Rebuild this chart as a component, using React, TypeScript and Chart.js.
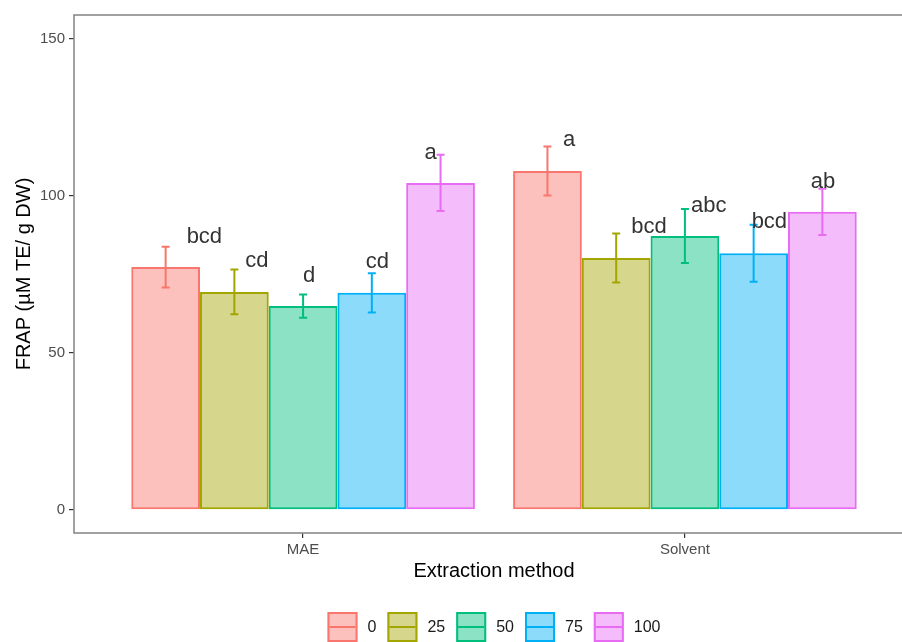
import React, { useEffect, useRef } from 'react';
import { Chart, registerables } from 'chart.js';

Chart.register(...registerables);

// ---- data ----
const categories = ['MAE', 'Solvent'];
const seriesNames = ['0', '25', '50', '75', '100'];

const mean0 = [77.3, 107.9];
const mean25 = [69.4, 80.2];
const mean50 = [64.9, 87.2];
const mean75 = [69.1, 81.7];
const mean100 = [104.1, 94.9];

const sd0 = [6.5, 7.8];
const sd25 = [7.15, 7.8];
const sd50 = [3.7, 8.6];
const sd75 = [6.25, 9.1];
const sd100 = [8.95, 7.35];

const letters0 = ['bcd', 'a'];
const letters25 = ['cd', 'bcd'];
const letters50 = ['d', 'abc'];
const letters75 = ['cd', 'bcd'];
const letters100 = ['a', 'ab'];

// letter baselines, in FRAP units
const letterY0 = [85.1, 115.9];
const letterY25 = [77.3, 88.2];
const letterY50 = [72.7, 95.0];
const letterY75 = [77.1, 89.7];
const letterY100 = [111.7, 102.6];

const yTicks = [0, 50, 100, 150];
const xTicks = [1, 2];

// ---- style ----
const FONT = "'Liberation Sans', Arial, Helvetica, sans-serif";
const colors = ['#F8766D', '#A3A500', '#00BF7D', '#00B0F6', '#E76BF3'];
const FILL_ALPHA = 0.45;
// horizontal pixel offset of each letter's left edge from its bar centre
const letterDx = [
  [22, 16.5],
  [12, 16],
  [1, 7],
  [-5, -1],
  [-15, -10.5],
];

const means = [mean0, mean25, mean50, mean75, mean100];
const sds = [sd0, sd25, sd50, sd75, sd100];
const letters = [letters0, letters25, letters50, letters75, letters100];
const letterYs = [letterY0, letterY25, letterY50, letterY75, letterY100];

function rgba(hex: string, a: number) {
  const n = parseInt(hex.slice(1), 16);
  return `rgba(${(n >> 16) & 255},${(n >> 8) & 255},${n & 255},${a})`;
}

const extrasPlugin = {
  id: 'extras',
  afterDatasetsDraw(chart: any) {
    const ctx = chart.ctx;
    const y = chart.scales.y;
    ctx.save();
    chart.data.datasets.forEach((ds: any, d: number) => {
      const meta = chart.getDatasetMeta(d);
      meta.data.forEach((bar: any, i: number) => {
        const m = means[d][i];
        const s = sds[d][i];
        const yt = y.getPixelForValue(m + s);
        const yb = y.getPixelForValue(m - s);
        const x = bar.x;
        ctx.strokeStyle = colors[d];
        ctx.lineWidth = 2;
        ctx.beginPath();
        ctx.moveTo(x, yt);
        ctx.lineTo(x, yb);
        ctx.moveTo(x - 4, yt);
        ctx.lineTo(x + 4, yt);
        ctx.moveTo(x - 4, yb);
        ctx.lineTo(x + 4, yb);
        ctx.stroke();
      });
    });
    // letters
    ctx.font = `22px ${FONT}`;
    ctx.fillStyle = '#333333';
    ctx.textAlign = 'left';
    ctx.textBaseline = 'alphabetic';
    chart.data.datasets.forEach((ds: any, d: number) => {
      const meta = chart.getDatasetMeta(d);
      meta.data.forEach((bar: any, i: number) => {
        ctx.fillText(letters[d][i], bar.x + letterDx[d][i] - 1, y.getPixelForValue(letterYs[d][i]));
      });
    });
    ctx.restore();
  },
  afterDraw(chart: any) {
    const ctx = chart.ctx;
    const a = chart.chartArea;
    ctx.save();
    // panel border
    ctx.strokeStyle = '#8a8a8a';
    ctx.lineWidth = 1.6;
    ctx.strokeRect(a.left, a.top, a.right - a.left, a.bottom - a.top);

    // legend
    const key = 30;
    const gapText = 10;
    const gapItem = 11;
    ctx.font = `16px ${FONT}`;
    const widths = seriesNames.map((s) => ctx.measureText(s).width);
    let total = 0;
    widths.forEach((w, i) => {
      total += key + gapText + w + (i < widths.length - 1 ? gapItem : 0);
    });
    let x = (a.left + a.right) / 2 - total / 2;
    const cy = chart.height - 15;
    seriesNames.forEach((s, i) => {
      const top = cy - key / 2;
      ctx.fillStyle = rgba(colors[i], FILL_ALPHA);
      ctx.fillRect(x, top, key, key);
      ctx.strokeStyle = colors[i];
      ctx.lineWidth = 2;
      ctx.strokeRect(x + 1, top + 1, key - 2, key - 2);
      ctx.beginPath();
      ctx.moveTo(x + 2, cy);
      ctx.lineTo(x + key - 2, cy);
      ctx.stroke();
      ctx.fillStyle = '#1a1a1a';
      ctx.textAlign = 'left';
      ctx.textBaseline = 'middle';
      ctx.fillText(s, x + key + gapText, cy + 1);
      x += key + gapText + widths[i] + gapItem;
    });
    ctx.restore();
  },
};

export default function App() {
  const ref = useRef<HTMLCanvasElement | null>(null);

  useEffect(() => {
    if (!ref.current) return;
    const datasets = seriesNames.map((name, d) => ({
      label: name,
      data: categories.map((c, i) => ({ x: xTicks[i], y: means[d][i] })),
      backgroundColor: rgba(colors[d], FILL_ALPHA),
      borderColor: colors[d],
      borderWidth: 2,
      borderSkipped: false,
    }));
    const chart = new Chart(ref.current, {
      type: 'bar',
      data: { datasets },
      plugins: [extrasPlugin],
      options: {
        responsive: false,
        animation: false,
        devicePixelRatio: 1,
        categoryPercentage: 0.9,
        barPercentage: 1.0,
        layout: { padding: { top: 15, right: 16, bottom: 59, left: 0 } },
        plugins: { legend: { display: false }, tooltip: { enabled: false } },
        scales: {
          x: {
            type: 'linear',
            min: 0.4,
            max: 2.6,
            offset: false,
            afterBuildTicks: (s: any) => {
              s.ticks = xTicks.map((v) => ({ value: v }));
            },
            afterFit: (s: any) => {
              s.height = 50;
            },
            ticks: {
              callback: (v: any) => categories[Math.round(Number(v)) - 1] ?? '',
              font: { size: 15, family: FONT },
              color: '#4d4d4d',
              padding: 3,
              autoSkip: false,
              maxRotation: 0,
            },
            grid: {
              display: true,
              drawOnChartArea: false,
              drawTicks: true,
              tickLength: 5,
              color: '#333333',
              lineWidth: 1.2,
              offset: false,
            },
            border: { display: false },
            title: {
              display: true,
              text: 'Extraction method',
              font: { size: 20, family: FONT },
              color: '#000000',
              padding: { top: 0, bottom: 0 },
            },
          },
          y: {
            type: 'linear',
            min: -7.4,
            max: 157.6,
            afterBuildTicks: (s: any) => {
              s.ticks = yTicks.map((v) => ({ value: v }));
            },
            afterFit: (s: any) => {
              s.width = 74;
            },
            ticks: {
              font: { size: 15, family: FONT },
              color: '#4d4d4d',
              padding: 4,
            },
            grid: {
              display: true,
              drawOnChartArea: false,
              drawTicks: true,
              tickLength: 5,
              color: '#333333',
              lineWidth: 1.2,
            },
            border: { display: false },
            title: {
              display: true,
              text: 'FRAP (µM TE/ g DW)',
              font: { size: 20, family: FONT },
              color: '#000000',
              padding: { top: 12, bottom: 0 },
            },
          },
        },
      },
    } as any);
    return () => chart.destroy();
  }, []);

  return (
    <div
      style={{
        position: 'absolute',
        left: 0,
        top: 0,
        width: 902,
        height: 642,
        overflow: 'hidden',
        background: '#ffffff',
      }}
    >
      <canvas ref={ref} width={930} height={642} style={{ width: 930, height: 642, display: 'block' }} />
    </div>
  );
}
